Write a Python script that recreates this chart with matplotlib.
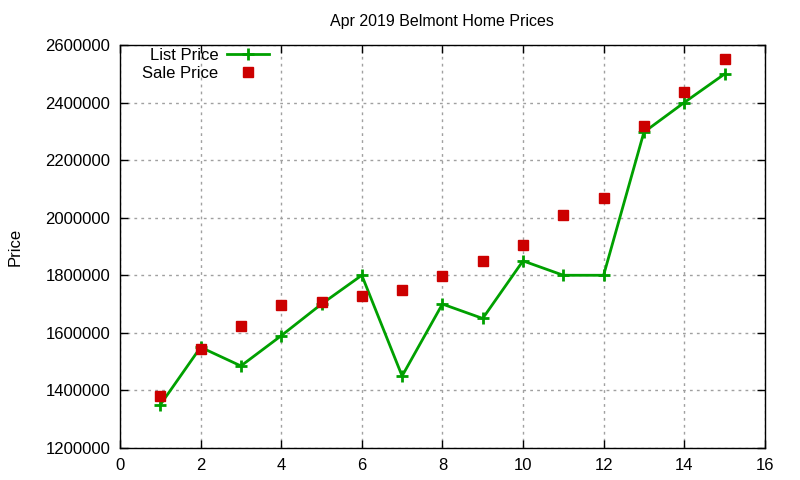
import numpy as np
import matplotlib
matplotlib.use('Agg')
import matplotlib.pyplot as plt

plt.rcParams['font.family'] = ['Liberation Sans', 'DejaVu Sans']

house = [1, 2, 3, 4, 5, 6, 7, 8, 9, 10, 11, 12, 13, 14, 15]
list_price = [1350000, 1550000, 1485000, 1590000, 1700000, 1800000, 1450000, 1700000,
              1650000, 1850000, 1800000, 1800000, 2297000, 2400000, 2499000]
sale_price = [1381000, 1545000, 1624000, 1698000, 1708000, 1728000, 1749000, 1798000,
              1850000, 1906000, 2009000, 2069000, 2319000, 2437000, 2552000]

fig = plt.figure(figsize=(8, 4.8), dpi=100)
ax = fig.add_axes([0.15, 0.0667, 0.806, 0.8396])

ax.plot(house, list_price, color='#00a000', lw=2, marker='+', ms=9, mew=2,
        label='List Price')
ax.plot(house, sale_price, ls='none', color='#cc0000', marker='s', ms=7,
        label='Sale Price')

ax.set_xlim(0, 16)
ax.set_ylim(1200000, 2600000)
ax.set_xticks(np.arange(0, 17, 2))
ax.set_yticks(np.arange(1200000, 2600001, 200000))
ax.ticklabel_format(style='plain', axis='y', useOffset=False)
ax.tick_params(direction='in', top=True, right=True, labelsize=12, length=6, width=1, pad=7)
ax.grid(True, color='#a0a0a0', ls=(0, (2, 3)), lw=1)
for s in ax.spines.values():
    s.set_linewidth(1)

ax.set_title('Apr 2019 Belmont Home Prices', fontsize=11.5, pad=14)
ax.set_ylabel('Price', fontsize=12, labelpad=16)

ax.legend(loc='upper right', bbox_to_anchor=(0.233, 0.996), frameon=False, markerfirst=False,
          fontsize=12, handlelength=2.5, handletextpad=0.5, labelspacing=0.15,
          borderaxespad=0, borderpad=0.1)

fig.savefig('out.png', dpi=100)
